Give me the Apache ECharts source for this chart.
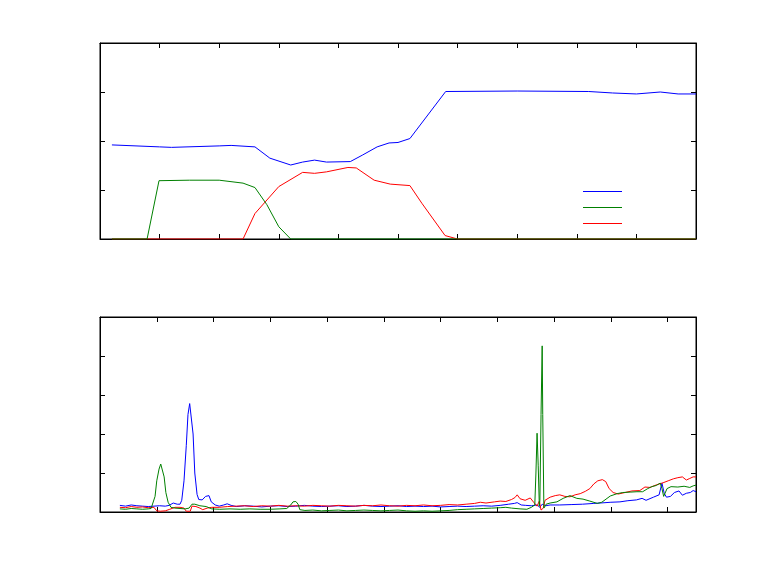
<!DOCTYPE html>
<html>
<head>
<meta charset="utf-8">
<script src="https://cdn.jsdelivr.net/npm/echarts@6/dist/echarts.min.js"></script>
<style>html,body{margin:0;padding:0;background:#fff}#c{width:769px;height:576px}</style>
</head>
<body>
<div id="c"></div>
<script>
// ---- Top panel data [x, y] ----
var topBlue = [[0.2,1.92],[1.0,1.88],[1.2,1.87],[2.0,1.9],[2.2,1.91],[2.6,1.88],[2.85,1.65],[3.2,1.51],[3.4,1.57],[3.6,1.61],[3.8,1.57],[4.2,1.58],[4.4,1.71],[4.65,1.88],[4.85,1.96],[5.0,1.97],[5.2,2.05],[5.8,3.01],[7.0,3.02],[8.2,3.01],[8.6,2.98],[9.0,2.96],[9.4,3.0],[9.7,2.96],[10,2.96]];
var topGreen = [[0.2,0],[0.79,0],[0.99,1.19],[1.5,1.2],[2.0,1.2],[2.4,1.14],[2.6,1.05],[2.8,0.7],[3.0,0.25],[3.2,0],[10,0]];
var topRed = [[0.2,0],[2.4,0],[2.6,0.52],[3.0,1.07],[3.4,1.36],[3.6,1.34],[3.8,1.37],[4.16,1.46],[4.3,1.45],[4.6,1.2],[4.87,1.12],[5.2,1.09],[5.4,0.73],[5.79,0.07],[6.0,0],[10,0]];

// ---- Bottom panel data [x, y] ----
var botBlue = [[0.35,0.17],[0.45,0.15],[0.55,0.18],[0.65,0.16],[0.75,0.15],[0.85,0.14],[0.95,0.15],[1.05,0.16],[1.15,0.15],[1.22,0.17],[1.29,0.23],[1.36,0.2],[1.41,0.2],[1.44,0.3],[1.48,0.8],[1.52,1.7],[1.55,2.5],[1.58,2.78],[1.6,2.75],[1.64,2.0],[1.67,1.0],[1.71,0.45],[1.74,0.32],[1.8,0.31],[1.86,0.4],[1.89,0.45],[1.92,0.42],[1.96,0.26],[2.03,0.18],[2.1,0.15],[2.18,0.18],[2.24,0.21],[2.31,0.17],[2.4,0.14],[2.55,0.16],[2.7,0.15],[2.85,0.13],[3.0,0.15],[3.15,0.16],[3.3,0.14],[3.45,0.15],[3.6,0.17],[3.75,0.15],[3.9,0.14],[4.05,0.15],[4.2,0.16],[4.35,0.14],[4.5,0.15],[4.65,0.17],[4.8,0.15],[4.95,0.14],[5.1,0.15],[5.25,0.16],[5.4,0.14],[5.55,0.15],[5.7,0.14],[5.85,0.15],[6.0,0.13],[6.15,0.14],[6.3,0.15],[6.45,0.14],[6.6,0.15],[6.75,0.16],[6.9,0.15],[7.05,0.17],[7.2,0.2],[7.3,0.22],[7.35,0.24],[7.42,0.18],[7.5,0.17],[7.6,0.16],[7.7,0.18],[7.75,0.12],[7.79,0.2],[7.85,0.16],[7.93,0.18],[8.1,0.18],[8.3,0.19],[8.5,0.2],[8.7,0.22],[8.81,0.23],[9.0,0.25],[9.16,0.26],[9.3,0.29],[9.45,0.31],[9.55,0.35],[9.62,0.3],[9.75,0.38],[9.85,0.44],[9.9,0.74],[9.94,0.48],[9.98,0.38],[10.05,0.4],[10.12,0.5],[10.2,0.54],[10.26,0.43],[10.33,0.48],[10.4,0.5],[10.45,0.55],[10.5,0.52]];
var botGreen = [[0.35,0.08],[0.45,0.07],[0.55,0.09],[0.65,0.08],[0.75,0.07],[0.85,0.08],[0.9,0.09],[0.93,0.14],[0.97,0.4],[1.0,0.8],[1.04,1.1],[1.07,1.23],[1.1,1.18],[1.13,0.9],[1.16,0.5],[1.2,0.25],[1.25,0.12],[1.32,0.1],[1.41,0.09],[1.5,0.08],[1.57,0.1],[1.62,0.2],[1.67,0.2],[1.76,0.16],[1.87,0.14],[1.97,0.08],[2.11,0.07],[2.29,0.08],[2.47,0.07],[2.64,0.08],[2.82,0.07],[3.0,0.07],[3.17,0.08],[3.29,0.09],[3.36,0.18],[3.4,0.26],[3.45,0.27],[3.49,0.2],[3.52,0.06],[3.61,0.04],[3.75,0.05],[3.9,0.03],[4.05,0.04],[4.2,0.05],[4.35,0.03],[4.5,0.04],[4.65,0.05],[4.8,0.04],[4.95,0.03],[5.1,0.04],[5.25,0.05],[5.4,0.03],[5.55,0.02],[5.7,0.03],[5.85,0.02],[6.0,0.03],[6.15,0.04],[6.3,0.06],[6.45,0.07],[6.6,0.08],[6.75,0.09],[6.9,0.1],[7.05,0.11],[7.15,0.12],[7.25,0.1],[7.4,0.08],[7.52,0.07],[7.6,0.12],[7.66,0.18],[7.68,1.0],[7.7,2.02],[7.72,1.2],[7.74,0.15],[7.75,0.3],[7.77,2.5],[7.79,4.26],[7.8,2.5],[7.82,0.1],[7.86,0.2],[7.93,0.23],[8.05,0.26],[8.16,0.35],[8.28,0.42],[8.4,0.35],[8.51,0.33],[8.63,0.28],[8.76,0.22],[8.84,0.25],[8.99,0.41],[9.11,0.47],[9.21,0.5],[9.34,0.51],[9.46,0.52],[9.56,0.52],[9.65,0.6],[9.72,0.65],[9.8,0.68],[9.87,0.74],[9.9,0.6],[9.93,0.4],[9.99,0.6],[10.06,0.65],[10.18,0.64],[10.29,0.66],[10.39,0.63],[10.45,0.67],[10.5,0.69]];
var botRed = [[0.35,0.12],[0.45,0.11],[0.55,0.14],[0.65,0.12],[0.75,0.13],[0.85,0.11],[0.95,0.12],[1.0,0.03],[1.06,0.02],[1.15,0.03],[1.23,0.07],[1.32,0.12],[1.41,0.12],[1.48,0.1],[1.52,0.02],[1.55,0],[1.59,0.02],[1.62,0.15],[1.69,0.14],[1.76,0.1],[1.81,0.06],[1.89,0.1],[1.97,0.12],[2.1,0.12],[2.25,0.14],[2.4,0.15],[2.55,0.16],[2.7,0.14],[2.85,0.16],[3.0,0.15],[3.15,0.17],[3.3,0.15],[3.45,0.16],[3.6,0.15],[3.75,0.17],[3.9,0.16],[4.05,0.15],[4.2,0.17],[4.35,0.16],[4.5,0.15],[4.65,0.17],[4.8,0.16],[4.95,0.18],[5.1,0.16],[5.25,0.15],[5.4,0.17],[5.55,0.16],[5.7,0.18],[5.85,0.16],[6.0,0.17],[6.15,0.19],[6.3,0.18],[6.45,0.2],[6.6,0.22],[6.7,0.25],[6.8,0.23],[6.95,0.26],[7.05,0.28],[7.15,0.27],[7.25,0.32],[7.31,0.37],[7.35,0.44],[7.4,0.34],[7.49,0.3],[7.58,0.36],[7.64,0.25],[7.7,0.15],[7.74,0.28],[7.77,0.05],[7.79,0],[7.81,0.1],[7.84,0.3],[7.93,0.38],[8.02,0.42],[8.1,0.44],[8.19,0.4],[8.28,0.39],[8.37,0.44],[8.46,0.47],[8.55,0.53],[8.63,0.6],[8.7,0.72],[8.77,0.8],[8.85,0.83],[8.91,0.78],[8.97,0.6],[9.04,0.5],[9.13,0.46],[9.25,0.5],[9.37,0.54],[9.51,0.55],[9.6,0.64],[9.69,0.63],[9.81,0.7],[9.92,0.75],[10.01,0.8],[10.1,0.85],[10.18,0.88],[10.26,0.9],[10.33,0.82],[10.39,0.86],[10.45,0.9],[10.5,0.9]];

var seriesNames = ['s1', 's2', 's3'];
var seriesColors = ['#0000ff', '#008000', '#ff0000'];

var chart = echarts.init(document.getElementById('c'), null, {renderer: 'canvas'});

function ax(grid, pos, min, max, interval) {
  return {
    type: 'value', gridIndex: grid, position: pos, min: min, max: max, interval: interval,
    axisLine: {show: true, onZero: false, lineStyle: {color: '#000', width: 1}},
    axisTick: {show: true, inside: true, length: 5, lineStyle: {color: '#000', width: 1}},
    axisLabel: {show: false}, splitLine: {show: false}
  };
}
function line(name, color, data, xi, yi) {
  return {type: 'line', name: name, data: data, xAxisIndex: xi, yAxisIndex: yi,
    showSymbol: false, symbol: 'none', lineStyle: {color: color, width: 1}, itemStyle: {color: color},
    animation: false, silent: true};
}
function leg(name, top) {
  return {data: [name], left: 583, top: top, orient: 'vertical', itemWidth: 39, itemHeight: 1,
    icon: 'rect', padding: 0, itemGap: 0, selectedMode: false, formatter: function(){return '';},
    textStyle: {fontSize: 1, lineHeight: 1}};
}

chart.setOption({
  backgroundColor: '#fff',
  animation: false,
  grid: [
    {left: 100, top: 43, width: 596, height: 196, show: true, borderColor: '#000', borderWidth: 1, backgroundColor: 'transparent'},
    {left: 100, top: 317, width: 596, height: 195, show: true, borderColor: '#000', borderWidth: 1, backgroundColor: 'transparent'}
  ],
  xAxis: [ax(0, 'bottom', 0, 10, 1), ax(0, 'top', 0, 10, 1), ax(1, 'bottom', 0, 10.5, 1), ax(1, 'top', 0, 10.5, 1)],
  yAxis: [ax(0, 'left', 0, 4, 1), ax(0, 'right', 0, 4, 1), ax(1, 'left', 0, 5, 1), ax(1, 'right', 0, 5, 1)],
  legend: [leg(seriesNames[0], 191), leg(seriesNames[1], 207), leg(seriesNames[2], 223)],
  series: [
    line(seriesNames[2], seriesColors[2], topRed, 0, 0),
    line(seriesNames[1], seriesColors[1], topGreen, 0, 0),
    line(seriesNames[0], seriesColors[0], topBlue, 0, 0),
    line(seriesNames[0], seriesColors[0], botBlue, 2, 2),
    line(seriesNames[2], seriesColors[2], botRed, 2, 2),
    line(seriesNames[1], seriesColors[1], botGreen, 2, 2)
  ]
});
</script>
</body>
</html>
